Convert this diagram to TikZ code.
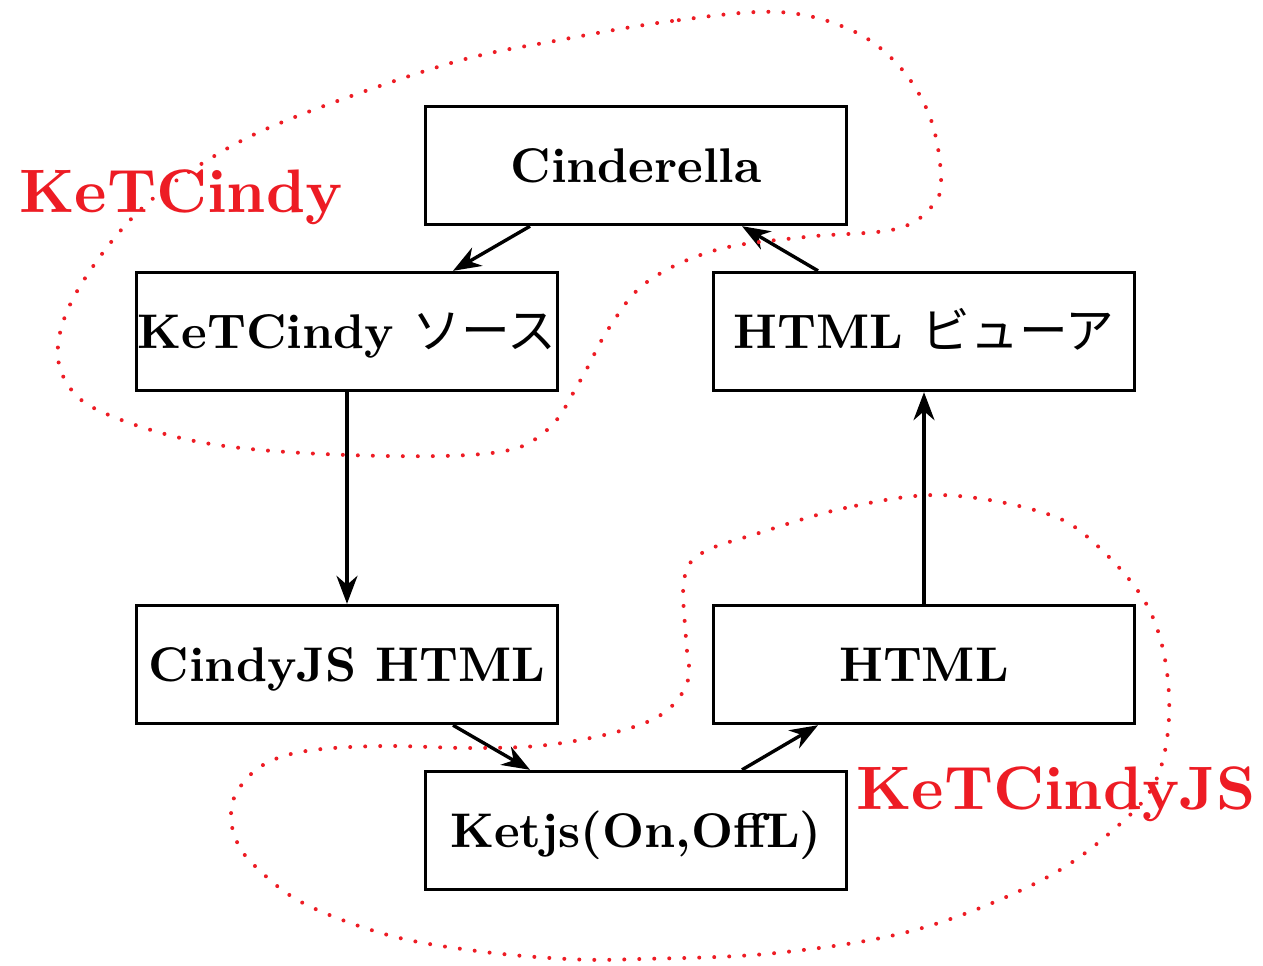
\documentclass[tikz,border=0pt]{standalone}
\usepackage{fontspec}
\newfontfamily\jp{Noto Sans CJK JP}
\usetikzlibrary{arrows.meta,calc}
\definecolor{kred}{RGB}{237,28,36}
\newcommand{\blk}[1]{\scalebox{2.435}{\fontsize{10}{12}\selectfont\bfseries #1}}
\newcommand{\redt}[1]{\scalebox{3.07}{\fontsize{10}{12}\selectfont\bfseries #1}}
\newcommand{\jtext}[1]{{\jp\mdseries #1}}
\begin{document}
\begin{tikzpicture}[x=0.5pt,y=-0.5pt,
  box/.style={draw, line width=1.7pt, minimum width=210.5pt, minimum height=59pt,
    inner sep=0pt, text height=16.7pt, text depth=0pt},
  conn/.style={line width=1.7pt, -{Stealth[length=14pt,width=10.5pt,inset=4.5pt]}},
  loopline/.style={kred, line width=2pt, line cap=round, dash pattern=on 0pt off 7.5pt},
  lab/.style={text=kred, inner sep=0pt}]
\useasboundingbox (0,0) rectangle (1263,965);

\node[box] (cin) at (636,165.5) {\blk{Cinderella}};
\node[box] (src) at (347,331.5) {\blk{KeTCindy \jtext{ソース}}};
\node[box] (view) at (924,331.5) {\blk{HTML \jtext{ビューア}}};
\node[box] (cjs) at (347,664.5) {\blk{CindyJS HTML}};
\node[box] (html) at (924,664.5) {\blk{HTML}};
\node[box] (ket) at (636,830.5) {\blk{Ketjs(On,OffL)}};

\draw[conn] ($(cin.south)+(-106,0)$) -- ($(src.north)+(106,0)$);
\draw[conn] ($(view.north)+(-106,0)$) -- ($(cin.south)+(106,0)$);
\draw[conn] (src.south) -- (cjs.north);
\draw[conn] ($(cjs.south)+(106,0)$) -- ($(ket.north)+(-106,0)$);
\draw[conn] ($(ket.north)+(106,0)$) -- ($(html.south)+(-106,0)$);
\draw[conn] (html.north) -- (view.south);

\node[lab, anchor=base west] (l1) at (19,212) {\redt{KeTCindy}};
\node[lab, anchor=base west] (l2) at (856,809) {\redt{KeTCindyJS}};

\draw[loopline] plot[smooth cycle, tension=0.6] coordinates {
 (778,12) (672,21) (560,40) (451,63) (295,117) (211,158) (138,212) (82,283)
 (59,338) (65,380) (102,412) (205,443) (348,455) (492,453) (547,430) (580,381)
 (609,328) (647,282) (716,250) (805,237) (896,229) (933,205) (941,176) (930,117)
 (899,66) (851,30)};

\draw[loopline] plot[smooth cycle, tension=0.6] coordinates {
 (940,495) (845,508) (759,533) (702,553) (684,580) (686,640) (688,680) (665,712)
 (620,731) (547,745) (472,748) (382,746) (306,751) (263,765) (238,790) (231,815)
 (237,842) (256,867) (303,903) (388,935) (477,951) (568,959) (640,959) (776,953)
 (915,930) (1038,882) (1112,831) (1157,778) (1169,695) (1149,609) (1091,540) (1038,511)};
\end{tikzpicture}
\end{document}
